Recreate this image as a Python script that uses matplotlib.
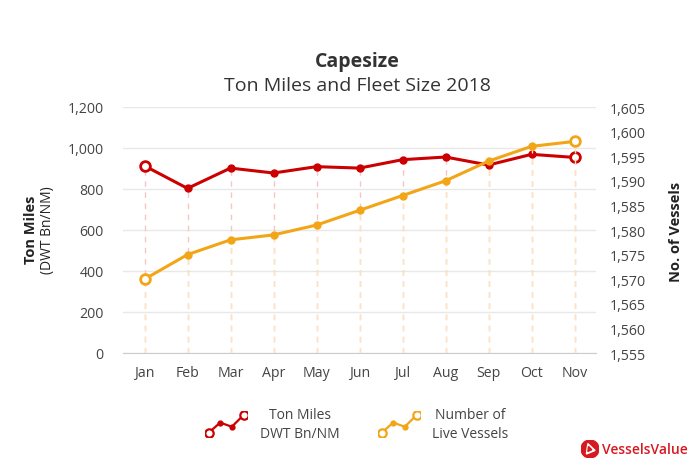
import numpy as np
import matplotlib
matplotlib.use("Agg")
import matplotlib.pyplot as plt
from matplotlib.patches import Circle, Polygon

# data
months = ["Jan", "Feb", "Mar", "Apr", "May", "Jun", "Jul", "Aug", "Sep", "Oct", "Nov"]
ton_miles = [913, 803, 902, 878, 909, 902, 943, 956, 917, 969, 954]
live_vessels = [1570, 1575, 1578, 1579, 1581, 1584, 1587, 1590, 1594, 1597, 1598]
left_ticks = [0, 200, 400, 600, 800, 1000, 1200]
right_ticks = [1555, 1560, 1565, 1570, 1575, 1580, 1585, 1590, 1595, 1600, 1605]

# small icon shape used in the legend
icon_shape = [0.0, 0.75, 0.45, 1.3]

RED = "#cc0000"
ORANGE = "#f2a516"
TXT = "#444444"

plt.rcParams["font.family"] = ["Open Sans", "DejaVu Sans"]

fig = plt.figure(figsize=(6.99, 4.77), dpi=100)
ax = fig.add_axes([123 / 699, 1 - 354 / 477, 473 / 699, 246 / 477])
ax2 = ax.twinx()

x = np.arange(len(months))


def draw_series(a, vals, color, pale, bottom):
    # dashed drop lines, the line, small dots, open end markers
    a.vlines(x, bottom, vals, colors=pale, linestyles=(0, (4, 4)), lw=1, zorder=1)
    a.plot(x, vals, color=color, lw=2.2, zorder=3)
    a.plot(x[1:-1], vals[1:-1], "o", color=color, ms=5, zorder=4)
    a.plot([x[0], x[-1]], [vals[0], vals[-1]], "o", mfc="white", mec=color,
           mew=2, ms=7, zorder=5)


draw_series(ax, ton_miles, RED, "#f5c6c6", 0)
draw_series(ax2, live_vessels, ORANGE, "#fde4bd", right_ticks[0])

ax.set_xlim(-0.5, len(months) - 0.5)
ax.set_ylim(left_ticks[0], left_ticks[-1])
ax2.set_ylim(right_ticks[0], right_ticks[-1])
ax.set_yticks(left_ticks)
ax.set_yticklabels([f"{v:,}" for v in left_ticks])
ax2.set_yticks(right_ticks)
ax2.set_yticklabels([f"{v:,}" for v in right_ticks])
ax.set_xticks(x)
ax.set_xticklabels(months)

ax.grid(axis="y", color="#e8e8e8", lw=1)
ax.set_axisbelow(True)
for a in (ax, ax2):
    for s in a.spines.values():
        s.set_visible(False)
    a.tick_params(length=0, labelsize=10.2, labelcolor=TXT)
ax.spines["bottom"].set_visible(True)
ax.spines["bottom"].set_color("#cccccc")
ax.tick_params(axis="x", pad=9)
ax.tick_params(axis="y", pad=14)
ax2.tick_params(axis="y", pad=10)

# titles
fig.text(357 / 699, 1 - 62 / 477, "Capesize", ha="center", va="center",
         fontsize=14, fontweight="bold", color="#333333")
fig.text(357 / 699, 1 - 86 / 477, "Ton Miles and Fleet Size 2018", ha="center",
         va="center", fontsize=14, color="#333333")

# axis labels
fig.text(31 / 699, 1 - 230 / 477, "Ton Miles", rotation=90, ha="center", va="center",
         fontsize=10.5, fontweight="bold", color="#222222")
fig.text(47 / 699, 1 - 230 / 477, "(DWT Bn/NM)", rotation=90, ha="center", va="center",
         fontsize=10, color="#222222")
fig.text(676 / 699, 1 - 232 / 477, "No. of Vessels", rotation=90, ha="center",
         va="center", fontsize=10.5, fontweight="bold", color="#222222")

# legend
legend_items = [("Ton Miles\nDWT Bn/NM", RED, 205, 300),
                ("Number of\nLive Vessels", ORANGE, 378, 470)]
for label, color, x0, xt in legend_items:
    ia = fig.add_axes([x0 / 699, 1 - 438 / 477, 42 / 699, 26 / 477])
    ia.plot(range(4), icon_shape, color=color, lw=1.6)
    ia.plot([1, 2], icon_shape[1:3], "o", color=color, ms=3.5)
    ia.plot([0, 3], [icon_shape[0], icon_shape[3]], "o", mfc="white", mec=color,
            mew=1.6, ms=6)
    ia.set_xlim(-0.3, 3.3)
    ia.set_ylim(-0.3, 1.6)
    ia.axis("off")
    fig.text(xt / 699, 1 - 425 / 477, label, ha="center", va="center",
             fontsize=10, color=TXT, linespacing=1.3)

# logo
la = fig.add_axes([581 / 699, 1 - 459 / 477, 18 / 699, 18 / 477])
la.add_patch(Circle((0.5, 0.5), 0.5, color="#d71920"))
la.add_patch(Polygon([[0.3, 0.22], [0.78, 0.42], [0.38, 0.8]], color="white"))
la.add_patch(Polygon([[0.38, 0.36], [0.6, 0.46], [0.42, 0.64]], color="#d71920"))
la.set_xlim(0, 1)
la.set_ylim(0, 1)
la.set_aspect("equal")
la.axis("off")
fig.text(602 / 699, 1 - 450 / 477, "VesselsValue", ha="left", va="center",
         fontsize=10, fontweight="semibold", color="#d71920")

fig.savefig("out.png", dpi=100)
